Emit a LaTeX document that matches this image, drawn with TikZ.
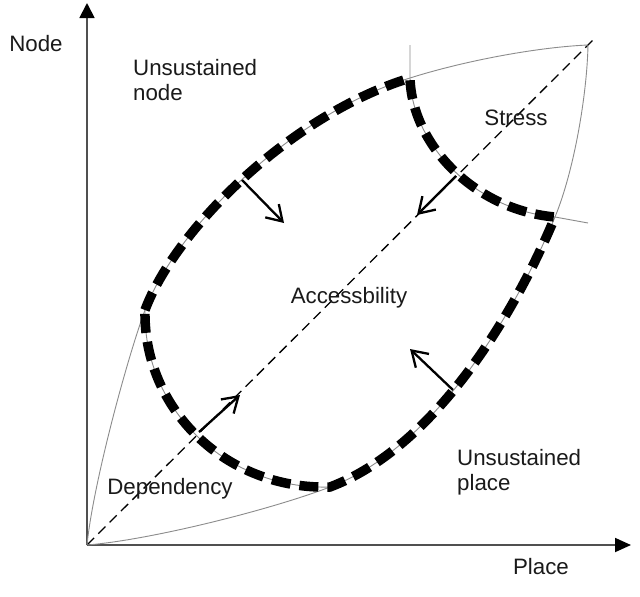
\documentclass[tikz,border=0pt]{standalone}
\usepackage{fontspec}
\setmainfont{Liberation Sans}
\usetikzlibrary{arrows.meta}
\definecolor{axisgray}{HTML}{505050}
\definecolor{lensgray}{HTML}{8C8C8C}
\definecolor{textcol}{HTML}{1A1A1A}
\begin{document}
\begin{tikzpicture}[x=1pt,y=-1pt,
  axis/.style={draw=axisgray, line width=1.8pt},
  lens/.style={draw=lensgray, line width=0.9pt},
  bound/.style={draw=black, line width=9.5pt, dash pattern=on 19pt off 9pt, line join=miter},
  diag/.style={draw=black, line width=1.3pt, dash pattern=on 10pt off 6pt},
  push/.style={draw=black, line width=2.3pt, -{Straight Barb[length=15pt,width=19pt]}},
  lbl/.style={font=\fontsize{22.3}{25}\selectfont, text=textcol, inner sep=0pt, align=left}
]
\useasboundingbox[fill=white] (0,0) rectangle (640,597);
% key points
\coordinate (O) at (87,545);
\coordinate (A) at (145,310);
\coordinate (B) at (410,78);
\coordinate (C) at (588,45);
\coordinate (D) at (330,487);
\coordinate (E) at (555,217);
\coordinate (S0) at (410,45);
\coordinate (S1) at (588,223);
\coordinate (Dg) at (595,38);
\coordinate (Ytip) at (87,3);
\coordinate (Xtip) at (631,545);
% axes
\draw[axis, -{Triangle[length=15pt,width=15pt,color=black]}] (O) -- (Ytip);
\draw[axis, -{Triangle[length=16pt,width=14pt,color=black]}] (O) -- (Xtip);
% diagonal
\draw[diag] (O) -- (Dg);
% thin lens and boundary curves
\draw[lens] (O) .. controls (93,485) and (126,362) .. (A) .. controls (175,230) and (290,115) .. (B) .. controls (467,60) and (540,47) .. (C);
\draw[lens] (O) .. controls (150,540) and (270,510) .. (D) .. controls (433,448) and (513,318) .. (E) .. controls (574,171) and (587,95) .. (C);
\draw[lens] (S0) -- (B) .. controls (412,145) and (475,210) .. (E) -- (S1);
\draw[lens] (D) .. controls (227,490) and (143,410) .. (A);
% thick dashed accessibility boundary
\draw[bound] (A) .. controls (175,230) and (290,115) .. (B) .. controls (412,145) and (475,210) .. (E) .. controls (513,318) and (433,448) .. (D) .. controls (227,490) and (143,410) .. (A) -- cycle;
% arrows
\coordinate (p1s) at (242,180); \coordinate (p1e) at (284,223);
\coordinate (p2s) at (456,176); \coordinate (p2e) at (417,215);
\coordinate (p3s) at (199,432); \coordinate (p3e) at (240,395);
\coordinate (p4s) at (453,390); \coordinate (p4e) at (410,349);
\draw[push] (p1s) -- (p1e);
\draw[push] (p2s) -- (p2e);
\draw[push] (p3s) -- (p3e);
\draw[push] (p4s) -- (p4e);
% labels
\node[lbl, anchor=base] (nodeY) at (36,51) {Node};
\node[lbl, anchor=north west] (un) at (133,59) {Unsustained\\node};
\node[lbl, anchor=base] (st) at (516,125) {Stress};
\node[lbl, anchor=base] (acc) at (349,303) {Accessbility};
\node[lbl, anchor=base] (dep) at (170,494) {Dependency};
\node[lbl, anchor=north west] (up) at (457,449) {Unsustained\\place};
\node[lbl, anchor=base] (pl) at (541,574) {Place};
\end{tikzpicture}
\end{document}
